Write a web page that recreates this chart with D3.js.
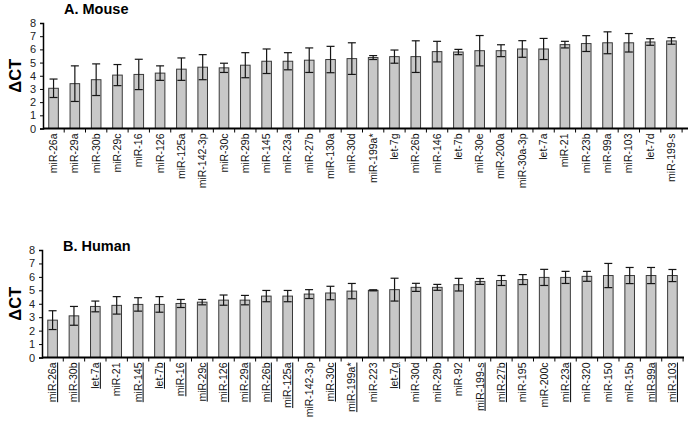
<!DOCTYPE html>
<html>
<head>
<meta charset="utf-8">
<script src="https://cdn.jsdelivr.net/npm/d3@7"></script>
<style>
  body { margin: 0; background: #fff; }
  text { font-family: "Liberation Sans", Arial, sans-serif; }
</style>
</head>
<body>
<svg id="chart" width="690" height="422"></svg>
<script>
const svg = d3.select("#chart");

// Mouse data
const mouseLabels = ["miR-26a", "miR-29a", "miR-30b", "miR-29c", "miR-16", "miR-126", "miR-125a", "miR-142-3p",
  "miR-30c", "miR-29b", "miR-145", "miR-23a", "miR-27b", "miR-130a", "miR-30d", "miR-199a*", "let-7g",
  "miR-26b", "miR-146", "let-7b", "miR-30e", "miR-200a", "miR-30a-3p", "let-7a", "miR-21", "miR-23b",
  "miR-99a", "miR-103", "let-7d", "miR-199-s"];
const mouseValues = [3.05, 3.4, 3.7, 4.05, 4.1, 4.2, 4.5, 4.65, 4.6, 4.8, 5.1, 5.1, 5.18, 5.23, 5.3, 5.38, 5.45,
  5.45, 5.83, 5.8, 5.9, 5.9, 6.03, 6.03, 6.36, 6.44, 6.5, 6.5, 6.56, 6.64];
const mouseErrors = [0.7, 1.35, 1.2, 0.8, 1.15, 0.55, 0.85, 0.95, 0.35, 0.95, 0.93, 0.65, 0.93, 1.0, 1.2, 0.15, 0.5,
  1.2, 0.78, 0.2, 1.15, 0.45, 0.63, 0.8, 0.25, 0.6, 0.83, 0.7, 0.25, 0.25];

// Human data
const humanLabels = ["miR-26a", "miR-30b", "let-7a", "miR-21", "miR-145", "let-7b", "miR-16", "miR-29c", "miR-126",
  "miR-29a", "miR-26b", "miR-125a", "miR-142-3p", "miR-30c", "miR-199a*", "miR-223", "let-7g", "miR-30d",
  "miR-29b", "miR-92", "miR-199-s", "miR-27b", "miR-195", "miR-200c", "miR-23a", "miR-320", "miR-150",
  "miR-15b", "miR-99a", "miR-103"];
const humanValues = [2.78, 3.1, 3.8, 3.88, 3.95, 3.95, 4.02, 4.12, 4.27, 4.27, 4.57, 4.57, 4.72, 4.8, 4.94, 5.0, 5.05,
  5.22, 5.22, 5.42, 5.66, 5.73, 5.8, 5.96, 5.96, 6.04, 6.1, 6.1, 6.1, 6.1];
const humanErrors = [0.7, 0.7, 0.4, 0.65, 0.5, 0.58, 0.3, 0.2, 0.38, 0.35, 0.42, 0.42, 0.33, 0.5, 0.57, 0.04, 0.85,
  0.3, 0.22, 0.47, 0.22, 0.37, 0.37, 0.6, 0.45, 0.37, 0.9, 0.6, 0.6, 0.45];
const humanUnderlined = ["miR-26a", "miR-30b", "let-7a", "miR-145", "let-7b", "miR-16", "miR-29c", "miR-126",
  "miR-29a", "miR-26b", "miR-125a", "miR-30c", "miR-199a*", "let-7g", "miR-199-s", "miR-27b", "miR-23a",
  "miR-99a", "miR-103"];

const yTicks = [0, 1, 2, 3, 4, 5, 6, 7, 8];

function drawPanel(opt) {
  const data = opt.labels.map((l, i) => ({ label: l, v: opt.values[i], e: opt.errors[i] }));
  const x = d3.scaleBand().domain(opt.labels).range([opt.left, opt.right]).paddingInner(0.55).paddingOuter(0.27);
  const y = d3.scaleLinear().domain([0, 8]).range([opt.bottom, opt.top]);
  const g = svg.append("g");

  // bars
  g.selectAll(".bar").data(data).enter().append("rect")
    .attr("x", d => x(d.label))
    .attr("y", d => y(d.v))
    .attr("width", x.bandwidth())
    .attr("height", d => y(0) - y(d.v))
    .attr("fill", "#c8c8c8")
    .attr("stroke", "#3a3a3a")
    .attr("stroke-width", 1);

  // error bars
  const cap = 4;
  const eb = g.selectAll(".err").data(data).enter().append("g")
    .attr("stroke", "#151515").attr("stroke-width", 1.2);
  eb.append("line")
    .attr("x1", d => x(d.label) + x.bandwidth() / 2).attr("x2", d => x(d.label) + x.bandwidth() / 2)
    .attr("y1", d => y(d.v - d.e)).attr("y2", d => y(d.v + d.e));
  eb.append("line")
    .attr("x1", d => x(d.label) + x.bandwidth() / 2 - cap).attr("x2", d => x(d.label) + x.bandwidth() / 2 + cap)
    .attr("y1", d => y(d.v + d.e)).attr("y2", d => y(d.v + d.e));
  eb.append("line")
    .attr("x1", d => x(d.label) + x.bandwidth() / 2 - cap).attr("x2", d => x(d.label) + x.bandwidth() / 2 + cap)
    .attr("y1", d => y(d.v - d.e)).attr("y2", d => y(d.v - d.e));

  // y axis
  const ya = g.append("g").attr("transform", `translate(${opt.left},0)`)
    .call(d3.axisLeft(y).tickValues(yTicks).tickSize(3).tickPadding(4));
  ya.select(".domain").attr("stroke", "#000").attr("stroke-width", 1.5);
  ya.selectAll("text").attr("font-size", 11).attr("fill", "#222");

  // x axis line + tick marks between bands
  g.append("line").attr("x1", opt.left).attr("x2", opt.axisEnd)
    .attr("y1", y(0)).attr("y2", y(0)).attr("stroke", "#000").attr("stroke-width", 2);
  const step = x.step();
  g.selectAll(".xt").data(opt.labels).enter().append("line")
    .attr("x1", d => x(d) + x.bandwidth() / 2 + step / 2).attr("x2", d => x(d) + x.bandwidth() / 2 + step / 2)
    .attr("y1", y(0)).attr("y2", y(0) + 4).attr("stroke", "#000");

  // x labels
  g.selectAll(".xl").data(opt.labels).enter().append("text")
    .attr("transform", d => `translate(${x(d) + x.bandwidth() / 2 + 3.5},${y(0) + 5}) rotate(-90)`)
    .attr("text-anchor", "end")
    .attr("font-size", 10.5)
    .attr("fill", "#111")
    .style("text-decoration", d => opt.underlined.includes(d) ? "underline" : "none")
    .text(d => d);

  // title
  g.append("text").attr("x", opt.left + 21).attr("y", opt.titleY)
    .attr("font-size", 14.5).attr("font-weight", "bold").text(opt.title);

  // y label
  g.append("text")
    .attr("transform", `translate(21,${(opt.top + opt.bottom) / 2}) rotate(-90)`)
    .attr("text-anchor", "middle").attr("font-size", 16.5).attr("font-weight", "bold")
    .text("\u0394CT");
}

drawPanel({
  labels: mouseLabels, values: mouseValues, errors: mouseErrors, underlined: [],
  left: 43, right: 682, axisEnd: 688, top: 23, bottom: 128.5, titleY: 14, title: "A. Mouse"
});
drawPanel({
  labels: humanLabels, values: humanValues, errors: humanErrors, underlined: humanUnderlined,
  left: 42, right: 683, axisEnd: 684, top: 250, bottom: 357.5, titleY: 251, title: "B. Human"
});
</script>
</body>
</html>
